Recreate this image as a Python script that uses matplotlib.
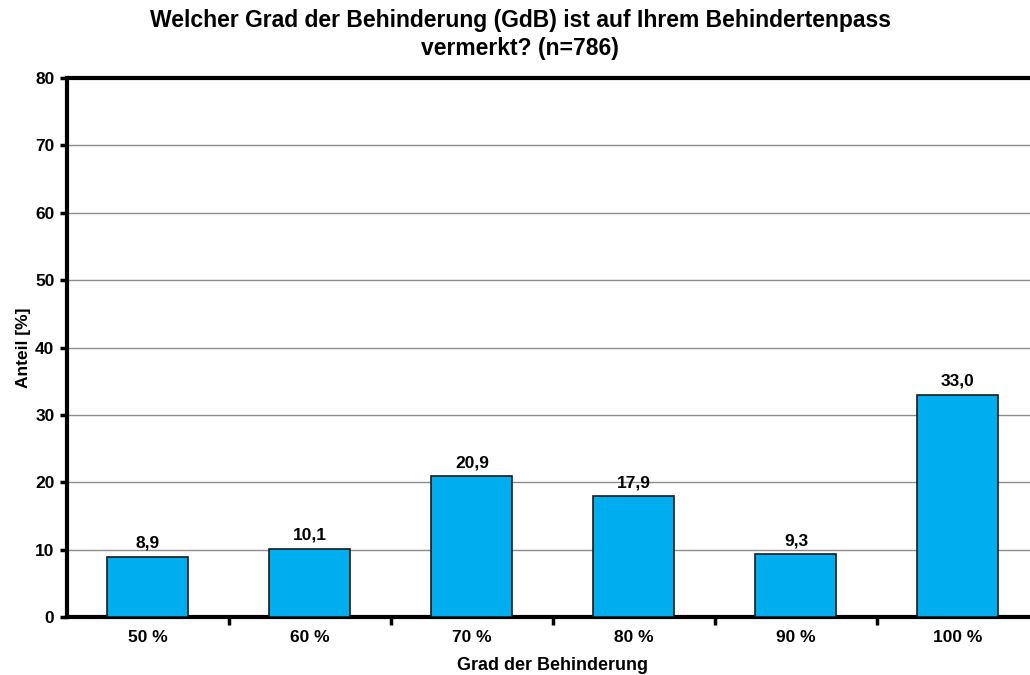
import matplotlib
matplotlib.use("Agg")
import matplotlib.pyplot as plt
import numpy as np

plt.rcParams['font.family'] = ['Liberation Sans', 'DejaVu Sans']
plt.rcParams['font.weight'] = 'bold'

categories = ["50 %", "60 %", "70 %", "80 %", "90 %", "100 %"]
shares = [8.9, 10.1, 20.9, 17.9, 9.3, 33.0]

fig = plt.figure(figsize=(10.3, 6.75), dpi=100)
ax = fig.add_axes([0.065, 0.0859, 0.9437, 0.7985])

x = np.arange(len(categories))
bars = ax.bar(x, shares, width=0.5, color="#00AEEF", edgecolor="#1a1a1a",
              linewidth=1.2, zorder=3)

for xi, v in zip(x, shares):
    ax.text(xi, v + 0.9, f"{v:.1f}".replace(".", ","), ha="center", va="bottom",
            fontsize=12.5, fontweight="bold")

ax.set_xlim(-0.5, len(categories) - 0.5)
ax.set_ylim(0, 80)
ax.set_yticks(np.arange(0, 81, 10))
ax.yaxis.grid(True, color="#8c8c8c", linewidth=1.0, zorder=0)
ax.set_axisbelow(True)

# category labels centred, tick marks on the boundaries between them
ax.set_xticks(x)
ax.set_xticklabels(categories, fontsize=12.5, fontweight="bold")
ax.tick_params(axis="x", length=0, pad=9)
ax.set_xticks(np.arange(0.5, len(categories) - 0.5, 1), minor=True)
ax.tick_params(axis="x", which="minor", length=6, width=2.5, direction="out")
ax.tick_params(axis="y", length=5, width=2.5, direction="out", labelsize=12.5, pad=4)
for lbl in ax.get_yticklabels():
    lbl.set_fontweight("bold")

for side in ["left", "bottom", "top"]:
    ax.spines[side].set_linewidth(3)
    ax.spines[side].set_color("black")
ax.spines["right"].set_visible(False)

ax.set_xlabel("Grad der Behinderung", fontsize=13, fontweight="bold", labelpad=9)
ax.set_ylabel("Anteil [%]", fontsize=12.5, fontweight="bold", labelpad=3)

fig.suptitle("Welcher Grad der Behinderung (GdB) ist auf Ihrem Behindertenpass\nvermerkt? (n=786)",
             x=0.505, y=0.986, fontsize=16.5, fontweight="bold", linespacing=1.28)

fig.savefig("out.png", dpi=100)
